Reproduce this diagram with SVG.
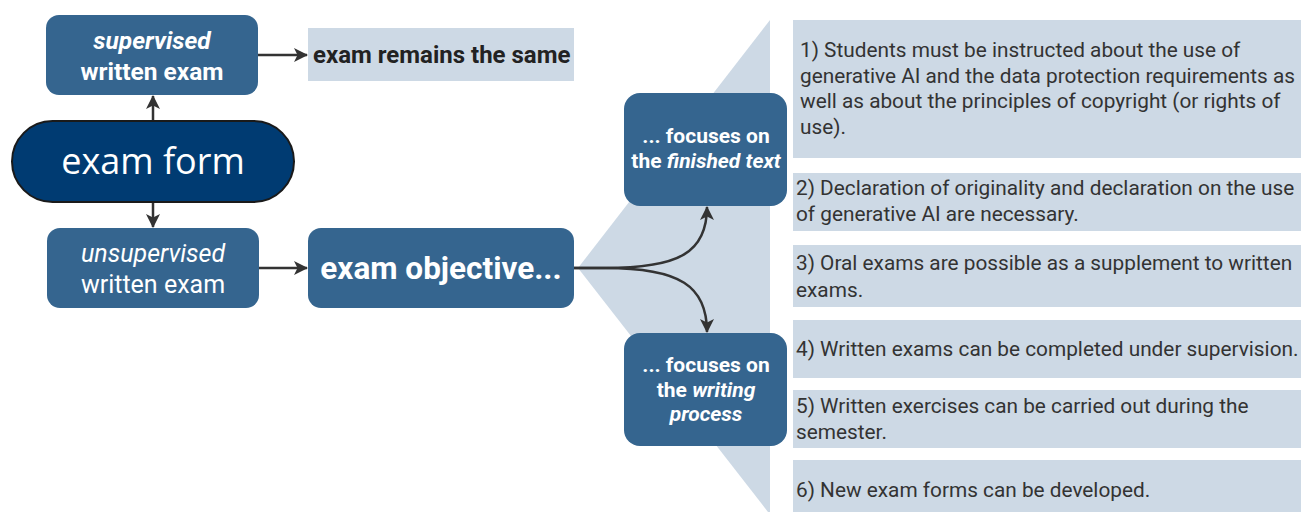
<svg xmlns="http://www.w3.org/2000/svg" width="1301" height="512" viewBox="0 0 1301 512">
<style>
.node{fill:#35658f}
.light{fill:#cdd9e5}
.wt{font-family:Roboto,"Liberation Sans",sans-serif;fill:#ffffff;text-anchor:middle}
.b{font-weight:bold}
.i{font-style:italic}
.lt{font-family:Roboto,"Liberation Sans",sans-serif;font-size:20.8px;fill:#333333}
.conn{fill:none;stroke:#333333;stroke-width:2.5}
</style>
<defs>
<marker id="arr" markerUnits="userSpaceOnUse" viewBox="0 0 14 14" markerWidth="14" markerHeight="14" refX="13" refY="7" orient="auto">
<path d="M0,0 L14,7 L0,14 L3.5,7 z" fill="#333333"/>
</marker>
</defs>
<rect width="1301" height="512" fill="#ffffff"/>
<polygon id="wedge" class="light" points="578,268 770,20 770,512 768,512"/>
<g id="list">
<rect class="light" x="793" y="20" width="508" height="138"/>
<text class="lt" x="800" y="57">1) Students must be instructed about the use of</text>
<text class="lt" x="800" y="83">generative AI and the data protection requirements as</text>
<text class="lt" x="800" y="108">well as about the principles of copyright (or rights of</text>
<text class="lt" x="800" y="134">use).</text>
<rect class="light" x="793" y="173" width="508" height="58"/>
<text class="lt" x="796" y="195">2) Declaration of originality and declaration on the use</text>
<text class="lt" x="796" y="221">of generative AI are necessary.</text>
<rect class="light" x="793" y="245" width="508" height="62"/>
<text class="lt" x="796" y="270">3) Oral exams are possible as a supplement to written</text>
<text class="lt" x="796" y="297">exams.</text>
<rect class="light" x="793" y="320" width="508" height="58"/>
<text class="lt" x="796" y="356">4) Written exams can be completed under supervision.</text>
<rect class="light" x="793" y="390" width="508" height="58"/>
<text class="lt" x="796" y="413">5) Written exercises can be carried out during the</text>
<text class="lt" x="796" y="439">semester.</text>
<rect class="light" x="793" y="460" width="508" height="52"/>
<text class="lt" x="796" y="497">6) New exam forms can be developed.</text>
</g>
<g id="connectors">
<line class="conn" x1="153" y1="121" x2="153" y2="96" marker-end="url(#arr)"/>
<line class="conn" x1="153" y1="203" x2="153" y2="227" marker-end="url(#arr)"/>
<line class="conn" x1="258" y1="55" x2="307" y2="55" marker-end="url(#arr)"/>
<line class="conn" x1="259" y1="268" x2="307" y2="268" marker-end="url(#arr)"/>
<path class="conn" d="M574,268 L605,268 C680,268 707,252 707,207" marker-end="url(#arr)"/>
<path class="conn" d="M574,268 L605,268 C680,268 707,286 707,332" marker-end="url(#arr)"/>
</g>
<g id="supervised">
<rect class="node" x="46" y="15" width="212" height="80" rx="13"/>
<text class="wt b i" x="152" y="49" font-size="24.5">supervised</text>
<text class="wt b" x="152" y="80" font-size="24.5">written exam</text>
</g>
<g id="same">
<rect class="light" x="308" y="28" width="266" height="53"/>
<text x="313" y="63" font-family="Roboto,'Liberation Sans',sans-serif" font-size="24" font-weight="bold" fill="#222222">exam remains the same</text>
</g>
<g id="examform">
<rect x="12" y="121" width="282" height="81" rx="40.5" fill="#003b72" stroke="#1a1a1a" stroke-width="2"/>
<text x="153" y="174" font-family="'Open Sans','Noto Sans',sans-serif" font-size="36" fill="#ffffff" text-anchor="middle">exam form</text>
</g>
<g id="unsupervised">
<rect class="node" x="47" y="228" width="212" height="80" rx="13"/>
<text class="wt i" x="153" y="262" font-size="25">unsupervised</text>
<text class="wt" x="153" y="293" font-size="25">written exam</text>
</g>
<g id="objective">
<rect class="node" x="308" y="228" width="266" height="80" rx="13"/>
<text class="wt b" x="441" y="279" font-size="31.5">exam objective...</text>
</g>
<g id="finished">
<rect class="node" x="624" y="93" width="163" height="113" rx="16"/>
<text class="wt b" x="706" y="143" font-size="21">... focuses on</text>
<text class="wt b" x="706" y="168" font-size="21">the <tspan class="i">finished text</tspan></text>
</g>
<g id="writing">
<rect class="node" x="624" y="333" width="163" height="113" rx="16"/>
<text class="wt b" x="706" y="372" font-size="21">... focuses on</text>
<text class="wt b" x="706" y="397" font-size="21">the <tspan class="i">writing</tspan></text>
<text class="wt b i" x="706" y="421" font-size="21">process</text>
</g>
</svg>
